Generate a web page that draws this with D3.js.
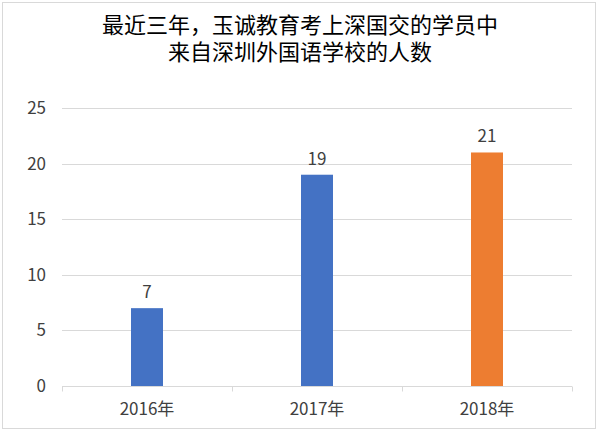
<!DOCTYPE html>
<html lang="zh">
<head>
  <meta charset="UTF-8">
  <title>深圳外国语学校人数</title>
<script src="https://d3js.org/d3.v7.min.js"></script>
<style>
  body { margin: 0; background: #fff; }
  text { font-family: "Noto Sans CJK SC", "Noto Sans", sans-serif; }
</style>
</head>
<body>
<div id="chart"></div>

  <script>

const years = ['2016年', '2017年', '2018年'];
const counts = [7, 19, 21];
const barColors = ['#4472C4', '#4472C4', '#ED7D31'];
const yTicks = [0, 5, 10, 15, 20, 25];
const titleLines = ['最近三年，玉诚教育考上深国交的学员中', '来自深圳外国语学校的人数'];

const width = 600;
const height = 432;
const margin = { top: 108, right: 28, bottom: 46, left: 62 };

const svg = d3.select('#chart')
  .append('svg')
  .attr('width', width)
  .attr('height', height);

// outer frame
svg.append('rect')
  .attr('x', 2.5).attr('y', 2.5)
  .attr('width', 593).attr('height', 426)
  .attr('fill', '#fff')
  .attr('stroke', '#d9d9d9');

const x = d3.scaleBand()
  .domain(years)
  .range([margin.left, width - margin.right])
  .paddingInner(0)
  .paddingOuter(0);

const y = d3.scaleLinear()
  .domain([0, 25])
  .range([height - margin.bottom, margin.top]);

// gridlines
svg.append('g')
  .selectAll('line')
  .data(yTicks.filter(d => d > 0))
  .enter()
  .append('line')
  .attr('x1', margin.left)
  .attr('x2', width - margin.right)
  .attr('y1', d => Math.round(y(d)) + 0.5)
  .attr('y2', d => Math.round(y(d)) + 0.5)
  .attr('stroke', '#d9d9d9');

// y labels
svg.append('g')
  .selectAll('text')
  .data(yTicks)
  .enter()
  .append('text')
  .attr('x', 46)
  .attr('y', d => y(d))
  .attr('dy', '0.35em')
  .attr('text-anchor', 'end')
  .attr('font-size', 17)
  .attr('fill', '#404040')
  .text(d => d);

// bars
const barW = 32;
svg.append('g')
  .selectAll('rect')
  .data(counts)
  .enter()
  .append('rect')
  .attr('x', (d, i) => x(years[i]) + x.bandwidth() / 2 - barW / 2)
  .attr('y', d => y(d))
  .attr('width', barW)
  .attr('height', d => y(0) - y(d))
  .attr('fill', (d, i) => barColors[i]);

// value labels
svg.append('g')
  .selectAll('text')
  .data(counts)
  .enter()
  .append('text')
  .attr('x', (d, i) => x(years[i]) + x.bandwidth() / 2)
  .attr('y', d => y(d) - 10)
  .attr('text-anchor', 'middle')
  .attr('font-size', 17)
  .attr('fill', '#404040')
  .text(d => d);

// x axis
const xAxis = svg.append('g')
  .attr('transform', `translate(0, ${Math.round(y(0)) + 0.5})`)
  .call(d3.axisBottom(x).tickSize(0).tickPadding(16));
xAxis.select('.domain').attr('stroke', '#d9d9d9').attr('d', `M${margin.left},0H${width - margin.right}`);
xAxis.selectAll('text')
  .attr('font-size', 17)
  .attr('fill', '#404040')
  .attr('font-family', '"Noto Sans CJK SC", sans-serif');
// category boundary ticks
xAxis.selectAll('.sep')
  .data(years.map(d => x(d)).concat([x(years[years.length - 1]) + x.bandwidth()]))
  .enter()
  .append('line')
  .attr('x1', d => Math.round(d) + 0.5)
  .attr('x2', d => Math.round(d) + 0.5)
  .attr('y1', 0)
  .attr('y2', 5)
  .attr('stroke', '#d9d9d9');

// title
svg.append('g')
  .selectAll('text')
  .data(titleLines)
  .enter()
  .append('text')
  .attr('x', width / 2)
  .attr('y', (d, i) => 33 + i * 27)
  .attr('text-anchor', 'middle')
  .attr('font-size', 22)
  .attr('fill', '#000')
  .text(d => d);

  </script>
</body>
</html>
